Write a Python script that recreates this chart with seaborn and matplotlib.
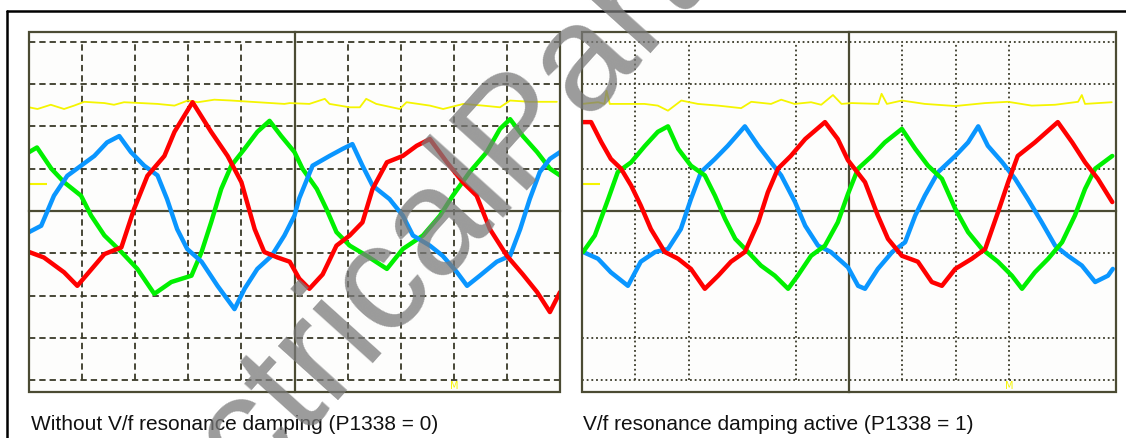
import numpy as np
import pandas as pd
import matplotlib
matplotlib.use("Agg")
import matplotlib.pyplot as plt
import seaborn as sns
from matplotlib.ticker import MultipleLocator, NullFormatter
from matplotlib.patches import Rectangle
from matplotlib.lines import Line2D

# ---------------- data (scope divisions) ----------------
# Left panel: without V/f resonance damping
L_red_x = [-5.0, -4.72, -4.34, -4.09, -3.58, -3.26, -3.02, -2.77, -2.45, -2.26, -1.92, -1.57, -1.26, -1.0,
           -0.75, -0.57, -0.32, -0.09, 0.09, 0.28, 0.53, 0.79, 1.04, 1.28, 1.47, 1.74, 2.04, 2.30, 2.55,
           2.87, 3.17, 3.43, 3.68, 4.0, 4.30, 4.57, 4.81, 5.0]
L_red_y = [-0.97, -1.1, -1.45, -1.77, -1.02, -0.86, 0.05, 0.83, 1.3, 1.87, 2.57, 1.87, 1.3, 0.68,
           -0.43, -0.97, -1.1, -1.2, -1.6, -1.84, -1.5, -0.82, -0.58, -0.27, 0.52, 1.15, 1.3, 1.54, 1.7,
           1.15, 0.68, 0.36, -0.43, -1.06, -1.5, -1.92, -2.39, -1.92]

L_grn_x = [-5.0, -4.85, -4.58, -4.34, -4.02, -3.83, -3.58, -3.26, -2.96, -2.64, -2.32, -1.94, -1.75, -1.57,
           -1.38, -1.19, -0.94, -0.70, -0.47, -0.25, 0.0, 0.15, 0.42, 0.60, 0.79, 1.04, 1.36, 1.74, 2.04,
           2.42, 2.74, 2.98, 3.30, 3.62, 3.87, 4.06, 4.30, 4.57, 4.81, 5.0]
L_grn_y = [1.39, 1.5, 1.0, 0.68, 0.36, -0.11, -0.58, -0.97, -1.37, -1.96, -1.68, -1.53, -0.97, -0.27,
           0.52, 1.07, 1.47, 1.87, 2.13, 1.77, 1.39, 1.0, 0.52, 0.05, -0.5, -0.82, -1.06, -1.37, -0.9,
           -0.58, -0.11, 0.36, 0.92, 1.39, 1.94, 2.17, 1.77, 1.39, 1.0, 0.84]

L_blu_x = [-5.0, -4.77, -4.53, -4.28, -4.02, -3.77, -3.53, -3.30, -3.08, -2.83, -2.58, -2.40, -2.21, -2.02,
           -1.75, -1.45, -1.13, -0.94, -0.70, -0.43, -0.19, 0.0, 0.09, 0.34, 0.66, 0.91, 1.09, 1.28, 1.47,
           1.79, 2.04, 2.23, 2.55, 2.79, 3.06, 3.25, 3.49, 3.81, 4.06, 4.25, 4.43, 4.62, 4.81, 5.0]
L_blu_y = [-0.5, -0.35, 0.36, 0.83, 1.07, 1.3, 1.62, 1.77, 1.39, 1.07, 0.84, 0.28, -0.43, -0.9,
           -1.2, -1.77, -2.32, -1.84, -1.37, -1.06, -0.58, -0.11, 0.3, 1.07, 1.3, 1.47, 1.58, 1.07, 0.6,
           0.28, -0.11, -0.58, -0.82, -1.06, -1.45, -1.77, -1.53, -1.2, -1.06, -0.43, 0.28, 0.92, 1.23, 1.39]

L_yel_x = [-5.0, -4.84, -4.59, -4.34, -4.15, -3.96, -3.58, -3.40, -3.21, -2.89, -2.58, -2.26, -2.01, -1.82,
           -1.51, -1.19, -0.82, -0.44, -0.19, -0.09, 0.28, 0.57, 0.66, 1.04, 1.23, 1.35, 1.54, 1.98, 2.11,
           2.55, 2.80, 3.18, 3.55, 3.87, 4.06, 4.43, 4.94]
L_yel_y = [2.45, 2.41, 2.51, 2.41, 2.49, 2.58, 2.55, 2.51, 2.57, 2.55, 2.53, 2.49, 2.61, 2.57,
           2.63, 2.61, 2.58, 2.55, 2.53, 2.55, 2.53, 2.65, 2.53, 2.45, 2.45, 2.65, 2.53, 2.41, 2.57,
           2.49, 2.41, 2.53, 2.49, 2.45, 2.61, 2.58, 2.58]

# Right panel: V/f resonance damping active
R_red_x = [-4.98, -4.83, -4.64, -4.46, -4.27, -4.08, -3.90, -3.71, -3.45, -3.20, -2.96, -2.70, -2.45, -2.21,
           -1.95, -1.70, -1.52, -1.33, -1.09, -0.82, -0.45, -0.21, -0.02, 0.30, 0.54, 0.73, 0.99, 1.29,
           1.55, 1.74, 1.99, 2.30, 2.55, 2.79, 2.98, 3.16, 3.48, 3.91, 4.18, 4.42, 4.66, 4.93]
R_red_y = [2.1, 2.1, 1.63, 1.23, 1.0, 0.6, 0.13, -0.43, -0.97, -1.13, -1.37, -1.84, -1.53, -1.2,
           -0.97, -0.27, 0.44, 1.0, 1.3, 1.7, 2.1, 1.7, 1.2, 0.68, -0.11, -0.66, -1.06, -1.2,
           -1.68, -1.77, -1.37, -1.13, -0.9, -0.03, 0.68, 1.3, 1.62, 2.1, 1.62, 1.15, 0.76, 0.21]

R_grn_x = [-4.98, -4.76, -4.51, -4.33, -4.08, -3.82, -3.58, -3.39, -3.20, -2.96, -2.70, -2.51, -2.32, -2.13,
           -1.89, -1.65, -1.39, -1.14, -0.96, -0.71, -0.45, -0.21, -0.02, 0.17, 0.43, 0.67, 0.99, 1.24,
           1.48, 1.74, 1.99, 2.23, 2.49, 2.79, 3.05, 3.24, 3.48, 3.73, 3.99, 4.23, 4.42, 4.61, 4.93]
R_grn_y = [-0.97, -0.58, 0.28, 0.92, 1.15, 1.54, 1.87, 2.0, 1.47, 1.07, 0.84, 0.36, -0.19, -0.66,
           -0.97, -1.29, -1.53, -1.84, -1.53, -1.06, -0.82, -0.27, 0.4, 1.0, 1.3, 1.62, 1.94, 1.47,
           1.07, 0.76, 0.05, -0.5, -0.9, -1.2, -1.53, -1.84, -1.45, -1.13, -0.74, -0.11, 0.52, 1.0, 1.3]

R_blu_x = [-4.98, -4.70, -4.46, -4.14, -3.90, -3.63, -3.39, -3.15, -2.96, -2.77, -2.51, -2.27, -1.95, -1.70,
           -1.46, -1.27, -1.01, -0.82, -0.58, -0.34, -0.02, 0.17, 0.30, 0.54, 0.81, 1.05, 1.24, 1.42,
           1.67, 1.99, 2.23, 2.42, 2.60, 2.87, 3.11, 3.35, 3.61, 3.86, 4.10, 4.36, 4.61, 4.85, 4.94]
R_blu_y = [-0.97, -1.13, -1.45, -1.77, -1.2, -0.97, -0.9, -0.43, 0.28, 0.92, 1.23, 1.54, 2.0, 1.54,
           1.15, 0.84, 0.21, -0.35, -0.82, -0.97, -1.33, -1.77, -1.84, -1.37, -0.97, -0.74, -0.11, 0.36,
           0.92, 1.3, 1.62, 2.0, 1.54, 1.15, 0.76, 0.28, -0.27, -0.82, -1.06, -1.29, -1.68, -1.53, -1.37]

R_yel_x = [-5.0, -4.70, -4.58, -4.54, -4.48, -4.14, -3.83, -3.58, -3.39, -3.14, -2.83, -2.45, -2.02, -1.83,
           -1.46, -1.27, -1.02, -0.71, -0.52, -0.30, -0.14, 0.05, 0.55, 0.61, 0.71, 0.99, 1.42, 1.99,
           2.55, 2.98, 3.42, 3.86, 4.29, 4.36, 4.42, 4.92]
R_yel_y = [2.53, 2.57, 2.53, 2.84, 2.53, 2.53, 2.53, 2.49, 2.37, 2.61, 2.53, 2.49, 2.43, 2.58,
           2.53, 2.63, 2.53, 2.57, 2.51, 2.74, 2.53, 2.55, 2.53, 2.77, 2.53, 2.61, 2.53, 2.48,
           2.55, 2.58, 2.49, 2.51, 2.58, 2.74, 2.53, 2.57]

captions = ["Without V/f resonance damping (P1338 = 0)", "V/f resonance damping active (P1338 = 1)"]
watermark = "ElectricalPartManuals"

# ---------------- styling ----------------
sns.set_style("white")
plt.rcParams['font.family'] = ['Liberation Sans', 'DejaVu Sans']

W, H = 1126, 439
fig = plt.figure(figsize=(W / 100, H / 100), dpi=100)
fig.patch.set_facecolor("white")

frame_col = "#4b4b33"
grid_col = "#3a3a28"
colors = {"red": "#ff0000", "grn": "#00f000", "blu": "#0a96ff", "yel": "#f5f500"}

panels = [
    dict(rect=[29 / W, 1 - 393 / H, (560 - 29) / W, 360 / H],
         series=[("yel", L_yel_x, L_yel_y), ("grn", L_grn_x, L_grn_y),
                 ("blu", L_blu_x, L_blu_y), ("red", L_red_x, L_red_y)],
         hgrid=[-4, -3, -2, -1, 1, 2, 3, 4], vgrid=[-4, -3, -2, -1, 1, 2, 3, 4],
         ls=(0, (3.5, 2.2)), cap_x=31),
    dict(rect=[582 / W, 1 - 393 / H, (1116 - 582) / W, 360 / H],
         series=[("yel", R_yel_x, R_yel_y), ("blu", R_blu_x, R_blu_y),
                 ("grn", R_grn_x, R_grn_y), ("red", R_red_x, R_red_y)],
         hgrid=[-4, -3, -1, 1, 3, 4], vgrid=[-4, -3, -1, 1, 2, 3],
         ls=(0, (1.0, 1.6)), cap_x=583),
]

for i, p in enumerate(panels):
    ax = fig.add_axes(p["rect"])
    ax.set_facecolor("#fdfdfc")
    ax.set_xlim(-5.0, 5.0)
    ax.set_ylim(-4.28, 4.23)

    # grid
    ax.hlines(p["hgrid"], -5, 5, colors=grid_col, linestyles=[p["ls"]], lw=1.3, zorder=1)
    ax.vlines(p["vgrid"], -4, 4, colors=grid_col, linestyles=[p["ls"]], lw=1.3, zorder=1)

    # center axes with ticks
    for s in ["top", "right"]:
        ax.spines[s].set_visible(False)
    ax.spines["left"].set_position("zero")
    ax.spines["bottom"].set_position("zero")
    for s in ["left", "bottom"]:
        ax.spines[s].set_color(frame_col)
        ax.spines[s].set_linewidth(1.6)
        ax.spines[s].set_zorder(2)
    ax.xaxis.set_major_locator(MultipleLocator(1))
    ax.xaxis.set_minor_locator(MultipleLocator(0.2))
    ax.yaxis.set_major_locator(MultipleLocator(1))
    ax.yaxis.set_minor_locator(MultipleLocator(0.2))
    ax.xaxis.set_major_formatter(NullFormatter())
    ax.yaxis.set_major_formatter(NullFormatter())
    ax.tick_params(which="major", direction="inout", length=6, width=1.2, color=frame_col)
    ax.tick_params(which="minor", direction="inout", length=4.5, width=1.0, color=frame_col)

    # traces
    for key, xs, ys in p["series"]:
        df = pd.DataFrame({"t": xs, "v": ys})
        sns.lineplot(data=df, x="t", y="v", ax=ax, color=colors[key],
                     lw=1.3 if key == "yel" else 3.2, estimator=None, sort=False,
                     zorder=3, legend=False)
    ax.set_xlabel("")
    ax.set_ylabel("")

    # channel ground marker + trigger marker
    ax.hlines(0.64, -5, -4.66, colors=colors["yel"], lw=1.5, zorder=4)
    ax.text(3.0, -4.12, "M", color=colors["yel"], fontsize=7, ha="center", va="center",
            family="DejaVu Sans", zorder=4)

    # frame
    ax.add_patch(Rectangle((0, 0), 1, 1, transform=ax.transAxes, fill=False,
                           ec=frame_col, lw=1.6, zorder=6, clip_on=False))

    fig.text(p["cap_x"] / W, 1 - 430 / H, captions[i], fontsize=15, color="#111111",
             ha="left", va="baseline")

# outer border
fig.add_artist(Line2D([7 / W, 1.0], [1 - 12 / H, 1 - 12 / H], color="black", lw=1.8,
                      transform=fig.transFigure))
fig.add_artist(Line2D([7 / W, 7 / W], [0.0, 1 - 12 / H], color="black", lw=1.8,
                      transform=fig.transFigure))

# watermark
fig.text(101 / W, 1 - 650 / H, watermark, rotation=48, rotation_mode="anchor",
         ha="left", va="baseline", fontsize=110, color="#7a7a7a", alpha=0.75, zorder=10)

fig.savefig("out.png", dpi=100, facecolor="white")
